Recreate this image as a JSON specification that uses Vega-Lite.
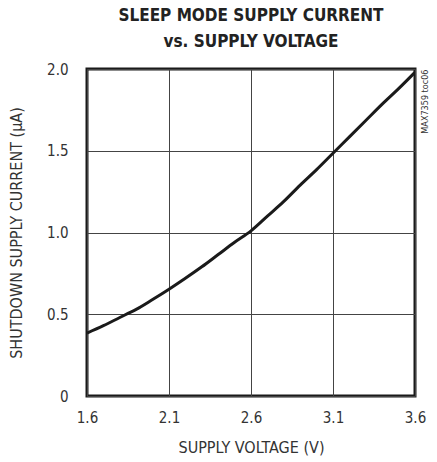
{
  "$schema": "https://vega.github.io/schema/vega-lite/v6.json",
  "autosize": "none",
  "width": 328,
  "height": 327,
  "padding": {"left": 87, "top": 69, "right": 22, "bottom": 66},
  "background": "white",
  "title": {
    "text": ["SLEEP MODE SUPPLY CURRENT", "vs. SUPPLY VOLTAGE"],
    "font": "DejaVu Sans Condensed, Liberation Sans, sans-serif",
    "fontWeight": "bold",
    "fontSize": 17,
    "lineHeight": 26,
    "color": "#222222",
    "anchor": "middle",
    "frame": "group",
    "offset": 11
  },
  "config": {
    "view": {"stroke": "#1a1a1a", "strokeWidth": 3},
    "axis": {
      "labelFont": "DejaVu Sans Condensed, Liberation Sans, sans-serif",
      "titleFont": "DejaVu Sans Condensed, Liberation Sans, sans-serif",
      "labelColor": "#333333",
      "titleColor": "#333333",
      "titleFontWeight": "normal",
      "labelFontSize": 15,
      "titleFontSize": 16,
      "labelFlush": false,
      "ticks": false,
      "domain": false,
      "gridColor": "#444444",
      "gridWidth": 1,
      "gridOpacity": 1
    }
  },
  "data": {
    "values": [
      {"v": 1.6, "i": 0.385},
      {"v": 1.7, "i": 0.43},
      {"v": 1.8, "i": 0.48},
      {"v": 1.85, "i": 0.505},
      {"v": 1.9, "i": 0.53},
      {"v": 2.0, "i": 0.59},
      {"v": 2.1, "i": 0.653},
      {"v": 2.2, "i": 0.72},
      {"v": 2.3, "i": 0.79},
      {"v": 2.4, "i": 0.865},
      {"v": 2.5, "i": 0.94},
      {"v": 2.6, "i": 1.01},
      {"v": 2.7, "i": 1.1},
      {"v": 2.8, "i": 1.19},
      {"v": 2.9, "i": 1.29},
      {"v": 3.0, "i": 1.385},
      {"v": 3.1, "i": 1.485},
      {"v": 3.2, "i": 1.585},
      {"v": 3.3, "i": 1.685},
      {"v": 3.4, "i": 1.785},
      {"v": 3.5, "i": 1.88},
      {"v": 3.6, "i": 1.98}
    ]
  },
  "encoding": {
    "x": {
      "field": "v",
      "type": "quantitative",
      "scale": {"domain": [1.6, 3.6], "nice": false, "zero": false},
      "axis": {
        "values": [1.6, 2.1, 2.6, 3.1, 3.6],
        "format": ".1f",
        "grid": true,
        "labelPadding": 14,
        "title": "SUPPLY VOLTAGE (V)",
        "titlePadding": 14
      }
    }
  },
  "layer": [
    {
      "mark": {"type": "line", "color": "#1a1a1a", "strokeWidth": 3, "interpolate": "monotone", "clip": true},
      "encoding": {
        "y": {
          "field": "i",
          "type": "quantitative",
          "scale": {"domain": [0, 2], "nice": false},
          "axis": {
            "values": [0, 0.5, 1, 1.5, 2],
            "labelExpr": "datum.value == 0 ? '0' : format(datum.value, '.1f')",
            "grid": true,
            "labelPadding": 19,
            "title": "SHUTDOWN SUPPLY CURRENT (µA)",
            "titlePadding": 22
          }
        }
      }
    },
    {
      "mark": {"type": "line", "strokeOpacity": 0},
      "encoding": {
        "y": {
          "field": "i",
          "type": "quantitative",
          "scale": {"domain": [0, 2], "nice": false},
          "axis": {
            "orient": "right",
            "labels": false,
            "grid": false,
            "title": "MAX7359 toc06",
            "titleFontSize": 9,
            "titleColor": "#333333",
            "titleAngle": 270,
            "titleAnchor": "end",
            "titleBaseline": "top",
            "titlePadding": 5
          }
        }
      }
    }
  ],
  "resolve": {"axis": {"y": "independent"}}
}
